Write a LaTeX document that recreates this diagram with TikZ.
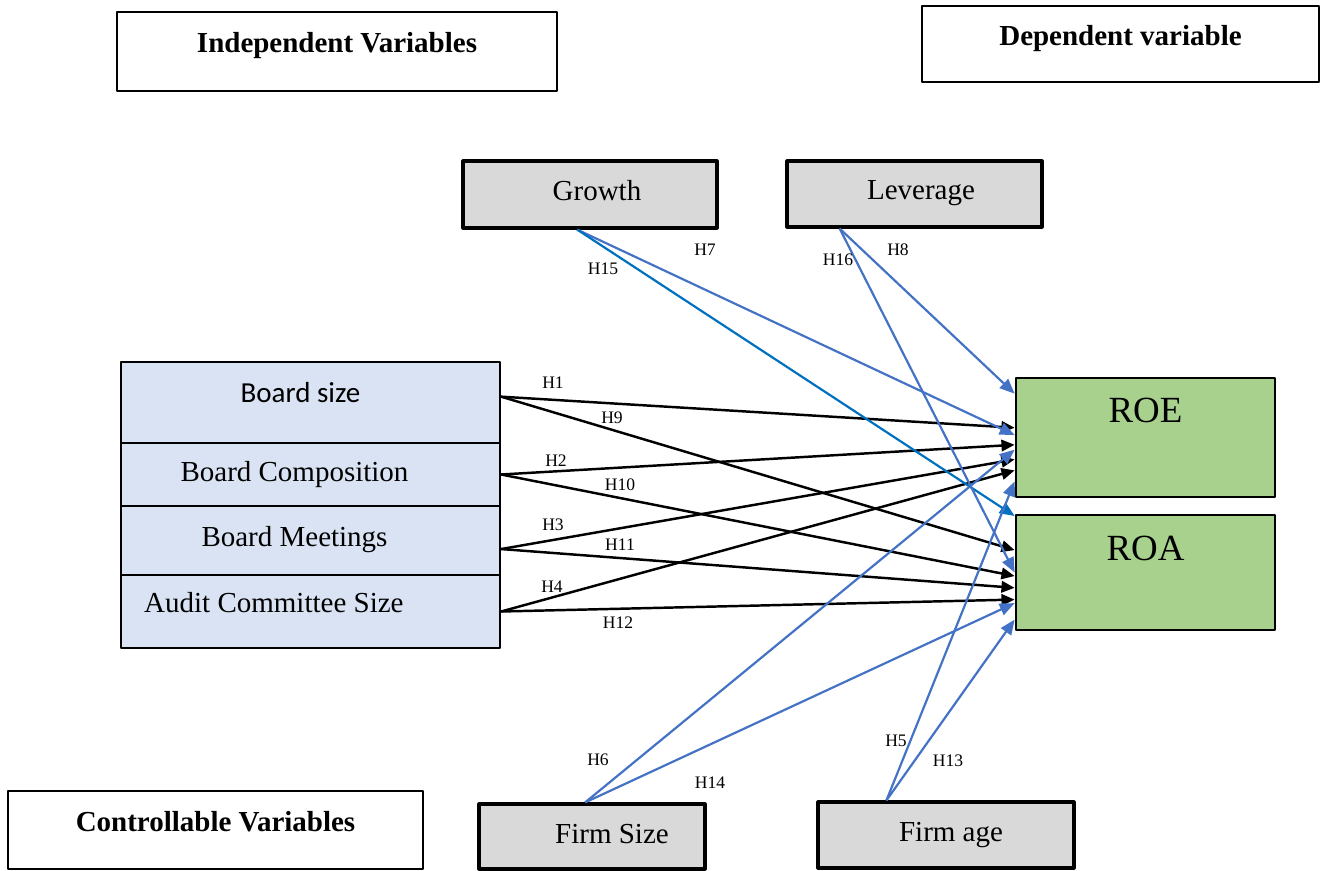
\documentclass[tikz,border=0pt]{standalone}
\usepackage{fontspec}
\setmainfont{Liberation Serif}
\newfontfamily\calibri{Carlito}
\usetikzlibrary{calc,arrows.meta}
\definecolor{boxgray}{HTML}{D9D9D9}
\definecolor{boardblue}{HTML}{DAE3F3}
\definecolor{retgreen}{HTML}{A9D18E}
\definecolor{arrblue}{HTML}{4472C4}
\definecolor{arrdeep}{HTML}{0070C0}
\tikzset{every node/.style={inner sep=0pt},every path/.style={line join=round},
  head/.style={draw,line width=1.2pt,fill=white},
  headtext/.style={font=\bfseries\fontsize{16.5}{19}\selectfont},
  ctrl/.style={draw,line width=1.8pt,fill=boxgray},
  bigtext/.style={font=\fontsize{16.5}{19}\selectfont},
  board/.style={draw,line width=1.3pt,fill=boardblue,minimum width=7.58cm},
  ret/.style={draw,line width=1.6pt,fill=retgreen,minimum width=5.18cm},
  rettext/.style={font=\fontsize{21}{24}\selectfont},
  hyp/.style={font=\fontsize{10}{12}\selectfont},
  link/.style={line width=1.4pt,-{Triangle[length=7.5pt,width=6.5pt]}},
  blink/.style={line width=1.25pt,arrblue,-{Triangle[length=8.5pt,width=7pt]}}}

\begin{document}
\begin{tikzpicture}[x=0.02cm,y=-0.02cm]
  \useasboundingbox (0,0) rectangle (1321,871);
  % headings
  \node[head,minimum width=8.8cm,minimum height=1.58cm,label={[headtext,yshift=.11cm]center:Independent Variables}] (indep) at (337,51.5) {};
  \node[head,minimum width=7.94cm,minimum height=1.52cm,label={[headtext,yshift=.1cm]center:Dependent variable}] (dep) at (1120.5,44) {};
  \node[head,minimum width=8.3cm,minimum height=1.56cm,label={[headtext,yshift=.17cm]center:Controllable Variables}] (contr) at (215.5,830) {};
  % control variables
  \node[ctrl,minimum width=5.08cm,minimum height=1.34cm,label={[bigtext,xshift=.14cm,yshift=.08cm]center:Growth}] (gr) at (590,194.5) {};
  \node[ctrl,minimum width=5.1cm,minimum height=1.32cm,label={[bigtext,xshift=.13cm,yshift=.02cm]center:Leverage}] (lev) at (914.5,194) {};
  \node[ctrl,minimum width=4.52cm,minimum height=1.3cm,label={[bigtext,xshift=.4cm,yshift=.05cm]center:Firm Size}] (fs) at (592,836.5) {};
  \node[ctrl,minimum width=5.12cm,minimum height=1.32cm,label={[bigtext,xshift=.1cm]center:Firm age}] (fa) at (946,835) {};
  % board characteristics
  \node[board,minimum height=1.62cm,label={[font=\calibri\fontsize{16.5}{19}\selectfont,xshift=-.2cm,yshift=.2cm]center:Board size}] (bs) at (310.5,402.5) {};
  \node[board,minimum height=1.26cm,label={[bigtext,xshift=-.32cm]center:Board Composition}] (bc) at (310.5,474.5) {};
  \node[board,minimum height=1.38cm,label={[bigtext,xshift=-.32cm,yshift=.01cm]center:Board Meetings}] (bm) at (310.5,540.5) {};
  \node[board,minimum height=1.46cm,label={[bigtext,anchor=west,xshift=.48cm,yshift=.17cm]west:Audit Committee Size}] (ac) at (310.5,611.5) {};
  % performance
  \node[ret,minimum height=2.38cm,label={[rettext,yshift=.55cm]center:ROE}] (roe) at (1145.5,437.5) {};
  \node[ret,minimum height=2.3cm,label={[rettext,yshift=.49cm]center:ROA}] (roa) at (1145.5,572.5) {};

  \coordinate (b1) at ($(bs.north east)!.43!(bs.south east)$);
  \coordinate (b3) at ($(bm.north east)!.62!(bm.south east)$);
  \coordinate (g0) at ($(gr.south west)!.45!(gr.south east)$);
  \coordinate (l0) at ($(lev.south west)!.21!(lev.south east)$);
  \coordinate (s0) at ($(fs.north west)!.47!(fs.north east)$);
  \coordinate (a0) at ($(fa.north west)!.27!(fa.north east)$);
  \foreach \n/\t in {8/.14,1/.42,7/.48,2/.56,6/.6,3/.68,4/.77,5/.86}
    \coordinate (e\n) at ($(roe.north west)!\t!(roe.south west)$);
  \foreach \n/\t in {15/.02,9/.31,16/.5,10/.53,11/.63,12/.73,14/.76,13/.9}
    \coordinate (e\n) at ($(roa.north west)!\t!(roa.south west)$);

  % board -> ROE / ROA
  \draw[link] (b1) -- (e1);
  \draw[link] (b1) -- (e9);
  \draw[link] (bc.east) -- (e2);
  \draw[link] (bc.east) -- (e10);
  \draw[link] (b3) -- (e3);
  \draw[link] (b3) -- (e11);
  \draw[link] (ac.east) -- (e4);
  \draw[link] (ac.east) -- (e12);
  % controls -> ROE / ROA
  \draw[blink] (g0) -- (e7);
  \draw[blink,arrdeep] (g0) -- (e15);
  \draw[blink] (l0) -- (e8);
  \draw[blink] (l0) -- (e16);
  \draw[blink] (s0) -- (e6);
  \draw[blink] (s0) -- (e14);
  \draw[blink] (a0) -- (e5);
  \draw[blink] (a0) -- (e13);

  \foreach \h/\x/\y in {1/553/383,9/612/418,2/556/461,10/620/485,3/553/525,11/620/545,4/552/587,12/618/623,
      7/705/250,15/603/269,16/838/260,8/898/250,6/598/760,14/710/783,5/896/741,13/948/761}
    \node[hyp] (h\h) at (\x,\y) {H\h};
\end{tikzpicture}
\end{document}
